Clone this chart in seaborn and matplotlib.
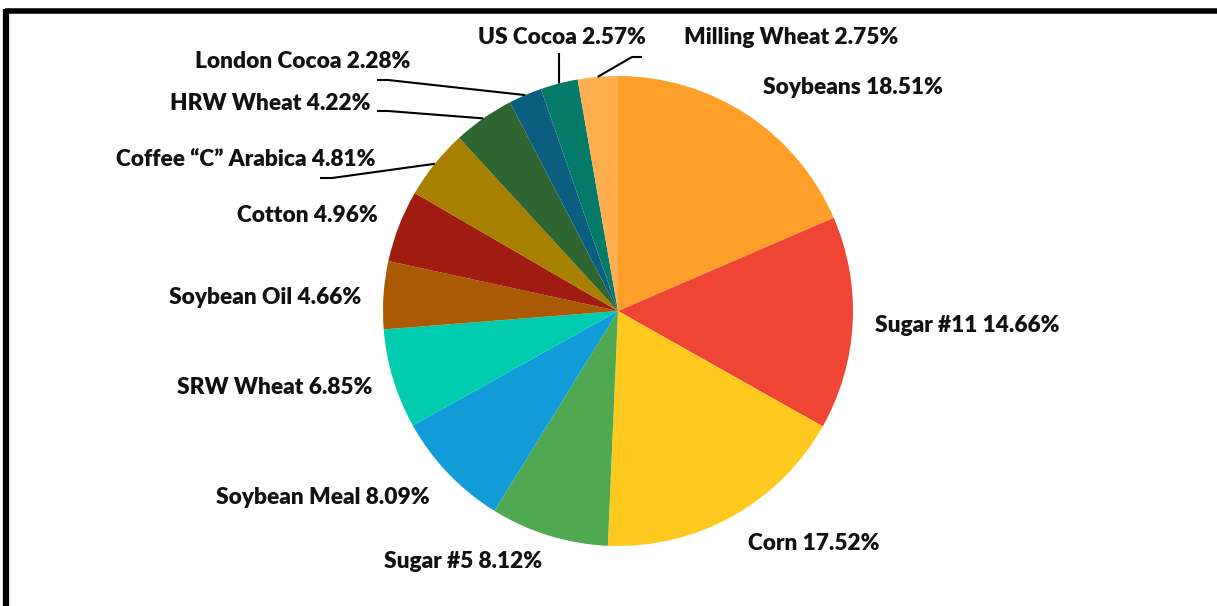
import matplotlib
matplotlib.use("Agg")
import matplotlib.pyplot as plt
import seaborn as sns
import numpy as np

# ---- data ----
categories = ["Soybeans", "Sugar #11", "Corn", "Sugar #5", "Soybean Meal",
              "SRW Wheat", "Soybean Oil", "Cotton", "Coffee \u201cC\u201d Arabica",
              "HRW Wheat", "London Cocoa", "US Cocoa", "Milling Wheat"]
shares = [18.51, 14.66, 17.52, 8.12, 8.09, 6.85, 4.66, 4.96, 4.81, 4.22, 2.28, 2.57, 2.75]
colors = ["#FE9F29", "#EE4535", "#FFC91E", "#50A950", "#119CD9", "#00CDB0",
          "#AA5A00", "#A01B10", "#A88000", "#2E6530", "#0B5E80", "#047B68", "#FFAF50"]

# ---- layout (pixel coordinates, y measured from top) ----
W, H = 1217, 606
cx, cy, R = 618, 311, 235
label_pos = [  # (x, y, ha)
    (763, 88, "left"), (875, 325, "left"), (748, 543, "left"), (384, 562, "left"),
    (430, 497, "right"), (372, 387, "right"), (361, 297, "right"), (378, 215, "right"),
    (375, 159, "right"), (371, 104, "right"), (410, 61, "right"), (478, 38, "left"),
    (684, 38, "left"),
]
# leader lines: index -> list of points from label side, last point goes to wedge edge
leaders = {
    8: [(320, 178), (332, 178)],
    9: [(377, 111), (388, 111)],
    10: [(377, 80), (388, 80)],
    11: [(559, 53)],
    12: [(642, 57), (632, 57)],
}

sns.set_theme(style="white")
plt.rcParams["font.family"] = ["Lato", "DejaVu Sans"]

fig = plt.figure(figsize=(W / 100, H / 100), dpi=100)
ax = fig.add_axes([0, 0, 1, 1])

def fy(y):
    return H - y

ax.pie(shares, colors=colors, startangle=90, counterclock=False,
       center=(cx, fy(cy)), radius=R, wedgeprops=dict(linewidth=0), frame=False)
ax.set_xlim(0, W)
ax.set_ylim(0, H)
ax.set_aspect("equal")
ax.axis("off")

total = sum(shares)
cum = np.cumsum([0] + shares)
for i, (name, v) in enumerate(zip(categories, shares)):
    x, y, ha = label_pos[i]
    ax.text(x, fy(y), f"{name} {v:.2f}%", ha=ha, va="center",
            fontsize=16.3, fontweight="heavy", color="#111111")
    if i in leaders:
        mid = (cum[i] + v / 2) / total * 360.0
        ex = cx + R * np.sin(np.radians(mid))
        ey = cy - R * np.cos(np.radians(mid))
        pts = leaders[i] + [(ex, ey)]
        ax.plot([p[0] for p in pts], [fy(p[1]) for p in pts], color="black", lw=1.5,
                solid_capstyle="butt")

# frame lines (top and left)
ax.plot([5, W], [fy(10.5), fy(10.5)], color="black", lw=4, solid_capstyle="butt")
ax.plot([5.5, 5.5], [fy(8.5), 0], color="black", lw=4.5, solid_capstyle="butt")

fig.savefig("out.png", dpi=100, facecolor="white")
